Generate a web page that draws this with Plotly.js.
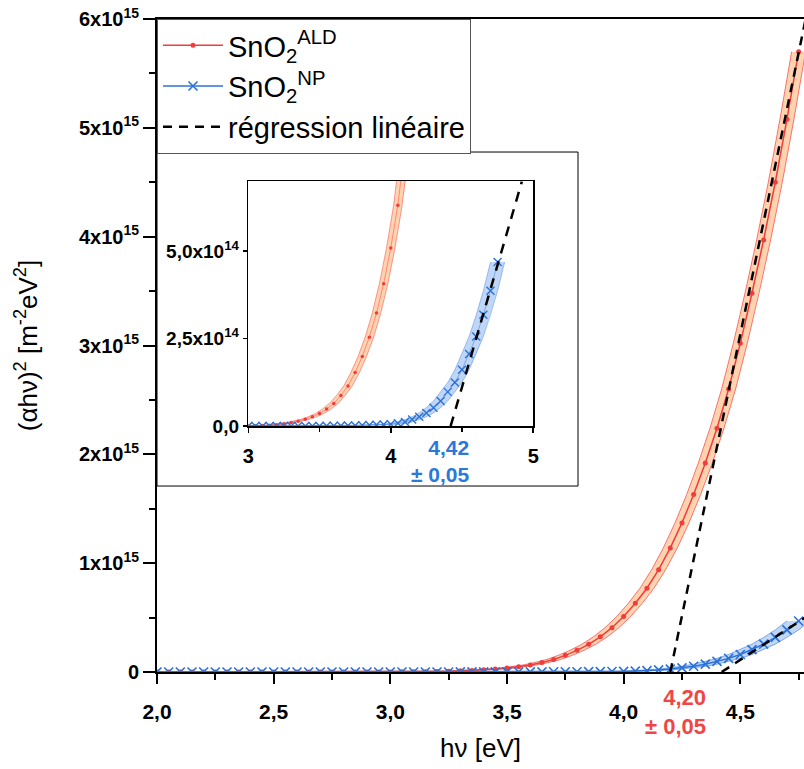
<!DOCTYPE html>
<html><head><meta charset="utf-8">
<script src="https://cdn.plot.ly/plotly-3.0.1.min.js"></script>
<style>html,body{margin:0;padding:0;background:#fff}</style>
</head><body>
<div id="chart" style="width:804px;height:769px"></div>
<script>
// photon energy hν [eV]
const energy = [2.00,2.05,2.10,2.15,2.20,2.25,2.30,2.35,2.40,2.45,
                2.50,2.55,2.60,2.65,2.70,2.75,2.80,2.85,2.90,2.95,
                3.00,3.05,3.10,3.15,3.20,3.25,3.30,3.35,3.40,3.45,
                3.50,3.55,3.60,3.65,3.70,3.75,3.80,3.85,3.90,3.95,
                4.00,4.05,4.10,4.15,4.20,4.25,4.30,4.35,4.40,4.45,
                4.50,4.55,4.60,4.65,4.70,4.75];
// (αhν)² in units of 1e14 m^-2 eV^2
const valueUnit = 1e14;
const aldValues = [0.002,0.002,0.002,0.002,0.002,0.002,0.002,0.003,0.003,0.003,
                   0.003,0.003,0.004,0.004,0.004,0.005,0.005,0.006,0.007,0.008,
                   0.010,0.014,0.020,0.030,0.045,0.070,0.105,0.143,0.200,0.270,
                   0.360,0.490,0.650,0.880,1.150,1.530,1.990,2.540,3.230,4.070,
                   5.090,6.310,7.700,9.400,11.40,13.70,16.30,19.20,22.40,26.00,
                   30.20,34.80,39.70,45.00,50.80,57.00];
const npValues  = [0.002,0.002,0.002,0.002,0.002,0.002,0.002,0.002,0.002,0.002,
                   0.002,0.002,0.002,0.002,0.002,0.003,0.003,0.003,0.003,0.003,
                   0.004,0.004,0.004,0.005,0.005,0.005,0.006,0.006,0.007,0.008,
                   0.009,0.010,0.012,0.015,0.018,0.022,0.027,0.033,0.040,0.048,
                   0.057,0.086,0.120,0.190,0.270,0.380,0.530,0.720,0.980,1.250,
                   1.610,2.060,2.560,3.180,3.870,4.690];
// energy uncertainty of the shaded bands [eV]
const aldBandHalfWidth = 0.03;
const npBandHalfWidth = 0.05;
// linear regressions (Tauc fits)
const aldFitX = [4.20, 4.78];
const aldFitY = [0, 6.0e15];
const npFitX = [4.42, 4.92];
const npFitY = [0, 6.98e14];
// tick labels
const mainYTickVals = [0, 1e15, 2e15, 3e15, 4e15, 5e15, 6e15];
const mainYTickText = ['0','1x10<sup>15</sup>','2x10<sup>15</sup>','3x10<sup>15</sup>','4x10<sup>15</sup>','5x10<sup>15</sup>','6x10<sup>15</sup>'];
const insetYTickVals = [0, 2.5e14, 5e14];
const insetYTickText = ['0,0','2,5x10<sup>14</sup>','5,0x10<sup>14</sup>'];
const aldGapLabel = '4,20<br>± 0,05';
const npGapLabel = '4,42<br>± 0,05';

const RED = '#f03c3c', BLUE = '#2b72d8';
const ald = aldValues.map(v => v * valueUnit);
const np = npValues.map(v => v * valueUnit);
const shift = (arr, d) => arr.map(e => e + d);

function bandTraces(vals, dE, lineColor, fillColor, xa, ya) {
  const left = shift(energy, -dE), right = shift(energy, dE);
  return [
    {x: left.concat(right.slice().reverse()), y: vals.concat(vals.slice().reverse()), xaxis: xa, yaxis: ya,
     mode: 'lines', fill: 'toself', fillcolor: fillColor, line: {width: 0, color: 'rgba(0,0,0,0)'},
     showlegend: false, hoverinfo: 'skip'},
    {x: left, y: vals, xaxis: xa, yaxis: ya, mode: 'lines', showlegend: false, hoverinfo: 'skip',
     line: {color: lineColor, width: 0.8}},
    {x: right, y: vals, xaxis: xa, yaxis: ya, mode: 'lines', showlegend: false, hoverinfo: 'skip',
     line: {color: lineColor, width: 0.8}}
  ];
}

const traces = [
  ...bandTraces(ald, aldBandHalfWidth, 'rgba(240,60,60,0.85)', 'rgba(255,196,150,0.75)', 'x', 'y'),
  ...bandTraces(np, npBandHalfWidth, 'rgba(43,114,216,0.7)', 'rgba(140,180,240,0.55)', 'x', 'y'),
  {x: energy, y: ald, xaxis: 'x', yaxis: 'y', mode: 'lines+markers', name: 'SnO<sub>2</sub><sup>ALD</sup>', legendrank: 1,
   line: {color: RED, width: 1.5}, marker: {symbol: 'circle', size: 5, color: RED}},
  {x: energy, y: np, xaxis: 'x', yaxis: 'y', mode: 'lines+markers', name: 'SnO<sub>2</sub><sup>NP</sup>', legendrank: 2,
   line: {color: BLUE, width: 1.5}, marker: {symbol: 'x-thin', size: 9, line: {color: BLUE, width: 1.6}}},
  {x: aldFitX, y: aldFitY, xaxis: 'x', yaxis: 'y', mode: 'lines', name: 'régression linéaire', legendgroup: 'fit', legendrank: 3,
   line: {color: '#000', width: 2.5, dash: '9px,7px'}},
  {x: npFitX, y: npFitY, xaxis: 'x', yaxis: 'y', mode: 'lines', legendgroup: 'fit', showlegend: false,
   line: {color: '#000', width: 2.5, dash: '9px,7px'}},
  // inset
  ...bandTraces(ald, aldBandHalfWidth, 'rgba(240,60,60,0.6)', 'rgba(255,196,150,0.75)', 'x2', 'y2'),
  ...bandTraces(np, npBandHalfWidth, 'rgba(43,114,216,0.5)', 'rgba(140,180,240,0.55)', 'x2', 'y2'),
  {x: energy, y: ald, xaxis: 'x2', yaxis: 'y2', mode: 'lines+markers', showlegend: false,
   line: {color: 'rgba(240,60,60,0.6)', width: 0.8}, marker: {symbol: 'circle', size: 3.5, color: RED}},
  {x: energy, y: np, xaxis: 'x2', yaxis: 'y2', mode: 'lines+markers', showlegend: false,
   line: {color: 'rgba(43,114,216,0.6)', width: 0.8}, marker: {symbol: 'x-thin', size: 8, line: {color: BLUE, width: 1.4}}},
  {x: npFitX, y: npFitY, xaxis: 'x2', yaxis: 'y2', mode: 'lines', showlegend: false,
   line: {color: '#000', width: 2.5, dash: '10px,8px'}}
];

const tickFont = {family: 'Arial', size: 21, color: '#000', weight: 'bold'};
const layout = {
  width: 804, height: 769,
  margin: {l: 157, r: 0, t: 19, b: 97},
  paper_bgcolor: '#fff', plot_bgcolor: 'rgba(0,0,0,0)',
  separators: ', ',
  showlegend: true,
  legend: {x: 0, y: 1, xanchor: 'left', yanchor: 'top', bgcolor: '#fff', bordercolor: '#555', borderwidth: 1,
           font: {family: 'Arial', size: 29, color: '#000'}, itemwidth: 60, tracegroupgap: 0},
  xaxis: {domain: [0, 1], range: [2, 4.773], showline: true, linewidth: 2, linecolor: '#000', mirror: true,
          ticks: 'outside', ticklen: 10, tickwidth: 2, tickcolor: '#000', tickmode: 'linear', tick0: 2, dtick: 0.5,
          tickformat: '.1f', tickfont: tickFont, ticklabelstandoff: 10, showgrid: false, zeroline: false, automargin: false,
          minor: {dtick: 0.25, ticks: 'outside', ticklen: 6, tickwidth: 2, tickcolor: '#000', showgrid: false},
          title: {text: 'hν [eV]', font: {family: 'Arial', size: 26, color: '#000'}, standoff: 17}},
  yaxis: {domain: [0, 1], range: [0, 6e15], showline: true, linewidth: 2, linecolor: '#000',
          ticks: 'outside', ticklen: 12, tickwidth: 2, tickcolor: '#000', tickmode: 'array',
          tickvals: mainYTickVals, ticktext: mainYTickText, tickfont: {family: 'Arial', size: 20, color: '#000', weight: 'bold'},
          showgrid: false, zeroline: false, automargin: false,
          minor: {dtick: 5e14, ticks: 'outside', ticklen: 6, tickwidth: 2, tickcolor: '#000', showgrid: false},
          title: {text: '(αhν)<sup>2</sup> [m<sup>-2</sup>eV<sup>2</sup>]', font: {family: 'Arial', size: 26, color: '#000'}, standoff: 34}},
  xaxis2: {domain: [0.1411, 0.5815], anchor: 'y2', range: [3, 5], showline: true, linewidth: 1.5, linecolor: '#000', mirror: true,
           ticks: 'outside', ticklen: 5, tickwidth: 1.5, tickcolor: '#000', tickmode: 'linear', tick0: 3, dtick: 1,
           tickformat: '.0f', tickfont: {family: 'Arial', size: 20, color: '#000', weight: 'bold'}, ticklabelstandoff: 6,
           showgrid: false, zeroline: false, automargin: false,
           minor: {dtick: 0.5, ticks: 'outside', ticklen: 4, tickwidth: 1.5, tickcolor: '#000', showgrid: false}},
  yaxis2: {domain: [0.3764, 0.7519], anchor: 'x2', range: [0, 7e14], showline: true, linewidth: 1.5, linecolor: '#000', mirror: true,
           ticks: 'outside', ticklen: 4, tickwidth: 1.5, tickcolor: '#000', tickmode: 'array',
           tickvals: insetYTickVals, ticktext: insetYTickText, tickfont: {family: 'Arial', size: 19, color: '#000', weight: 'bold'},
           showgrid: false, zeroline: false, automargin: false},
  shapes: [
    {type: 'rect', xref: 'paper', yref: 'paper', x0: 0, x1: 0.6507, y0: 0.2848, y1: 0.7963,
     line: {color: '#000', width: 1}, fillcolor: '#fff', layer: 'below'}
  ],
  annotations: [
    {text: aldGapLabel, xref: 'x', yref: 'paper', x: 4.36, y: -0.062, xanchor: 'right', yanchor: 'middle', align: 'right',
     showarrow: false, font: {family: 'Arial', size: 22, color: '#f04646', weight: 'bold'}},
    {text: npGapLabel, xref: 'x2', yref: 'paper', x: 4.567, y: 0.3224, xanchor: 'right', yanchor: 'middle', align: 'right',
     showarrow: false, font: {family: 'Arial', size: 21, color: '#2a78dc', weight: 'bold'}}
  ]
};

Plotly.newPlot('chart', traces, layout, {staticPlot: true, displayModeBar: false});
</script>
</body></html>
